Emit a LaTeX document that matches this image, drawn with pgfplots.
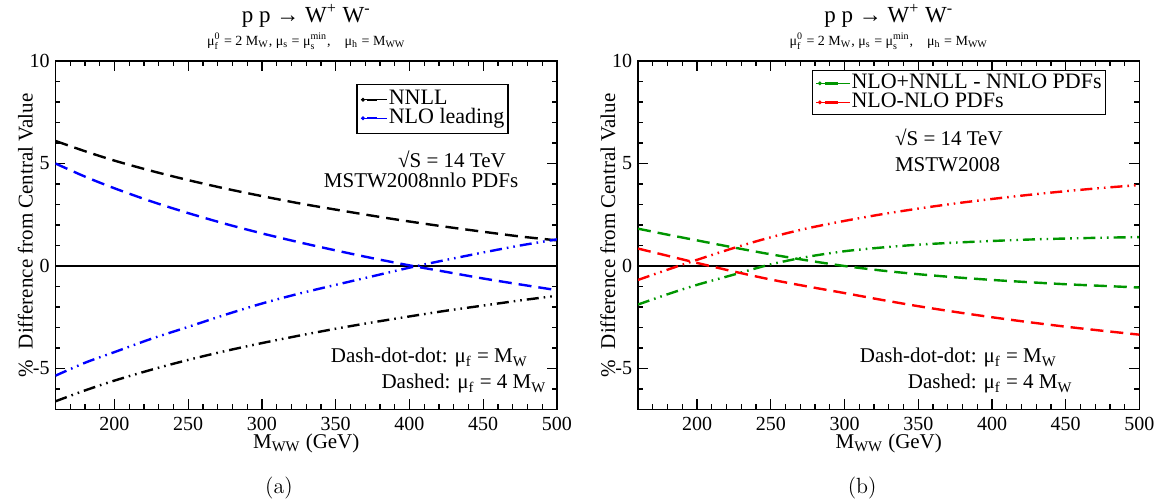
\documentclass[border=0pt]{standalone}
\usepackage{fontspec}
\setmainfont{Liberation Serif}
\usepackage{pgfplots}
\pgfplotsset{compat=1.18}

\definecolor{gcurve}{RGB}{0,150,0}
\definecolor{rcurve}{RGB}{255,0,0}
\definecolor{bcurve}{RGB}{0,0,255}

% stacked subscript/superscript in text
\newcommand{\subsup}[2]{$_{\mathrm{#1}}^{\mathrm{#2}}$}

\tikzset{
  ddd/.style={dash pattern=on 6pt off 2.5pt on 0.8pt off 2.5pt on 0.8pt off 2.5pt},
  dsh/.style={dash pattern=on 6.5pt off 3.5pt},
}

\pgfplotsset{
  panel/.style={
    scale only axis, width=250.75pt, height=174.25pt,
    xmin=160, xmax=500, ymin=-7, ymax=10,
    xtick={200,250,...,500}, ytick={-5,0,5,10},
    minor xtick={170,180,190,210,220,230,240,260,270,280,290,310,320,330,340,360,370,380,390,410,420,430,440,460,470,480,490},
    minor ytick={-6,-4,-3,-2,-1,1,2,3,4,6,7,8,9},
    xtick pos=both, ytick pos=both, tick align=inside,
    major tick length=5pt, minor tick length=2.5pt,
    every tick/.style={black, line width=0.6pt},
    axis line style={line width=0.85pt},
    tick label style={font=\fontsize{10}{12}\selectfont, inner sep=0pt},
    xticklabel style={anchor=base, yshift=-10.75pt},
    yticklabel style={anchor=east, xshift=-2.75pt},
    /pgf/number format/assume math mode=true,
    every axis x label/.style={at={(axis description cs:0.5,-0.1105)}, anchor=base},
    every axis y label/.style={at={(axis description cs:-0.06,0.5)}, rotate=90, anchor=center},
    label style={font=\fontsize{10.5}{12}\selectfont},
    xlabel={M\textsubscript{WW} (GeV)},
    ylabel={\%\ \ Difference from Central Value},
    clip mode=individual,
    legend cell align=left,
    legend style={draw=black, line width=0.6pt, fill=white,
      inner xsep=1.5pt, font=\fontsize{11}{11}\selectfont},
  },
  curve/.style={line width=1.2pt, smooth, forget plot},
  legsampleA/.style={legend image code/.code={
      \path (0pt,0pt) -- (13.4pt,0pt);
      \fill (1.2pt,0pt) circle[radius=0.65pt];
      \draw[solid, line width=1.2pt] (3.3pt,0pt) -- (8.2pt,0pt);}},
  legsampleB/.style={legend image code/.code={
      \path (0pt,0pt) -- (16.9pt,0pt);
      \fill (1.8pt,0pt) circle[radius=0.65pt];
      \draw[solid, line width=1.2pt] (4.5pt,0pt) -- (11pt,0pt);}},
}

\newcommand{\toptitle}{%
  \node[font=\fontsize{11.5}{13}\selectfont] at (rel axis cs:0.5,1.13) {p p → W\textsuperscript{+} W\textsuperscript{-}};
  \node[font=\fontsize{7}{8}\selectfont] at (rel axis cs:0.5,1.057)
    {μ\subsup{f}{0} = 2 M\textsubscript{W}, μ\textsubscript{s} = μ\subsup{s}{min},\quad μ\textsubscript{h} = M\textsubscript{WW}};
}

\begin{document}
\begin{tikzpicture}
\path[use as bounding box] (0pt,0pt) rectangle (579pt,251.5pt);

% ---------------- panel (a) ----------------
\begin{axis}[panel, at={(27.75pt,46.75pt)}, anchor=south west,
  legend style={at={(axis description cs:0.6,0.934)}, anchor=north west, inner ysep=3pt,
    nodes={inner sep=0.4pt, text height=6.8pt, text depth=1.6pt}}]
\addplot[black, line width=0.75pt, forget plot] coordinates {(160,0) (500,0)};
% NNLL, mu_f = 4 M_W
\addplot[curve, black, dsh] coordinates {
 (160,6.10) (180,5.60) (200,5.14) (225,4.64) (250,4.19) (275,3.78) (300,3.41) (325,3.06)
 (350,2.75) (375,2.45) (400,2.17) (425,1.91) (450,1.67) (475,1.44) (500,1.25)};
% NLO leading, mu_f = 4 M_W
\addplot[curve, bcurve, dsh] coordinates {
 (160,5.00) (180,4.36) (200,3.79) (225,3.15) (250,2.58) (275,2.06) (300,1.59) (325,1.16)
 (350,0.76) (375,0.38) (400,0.03) (425,-0.29) (450,-0.61) (475,-0.90) (500,-1.18)};
% NNLL, mu_f = M_W
\addplot[curve, black, ddd] coordinates {
 (160,-6.60) (180,-6.07) (200,-5.59) (225,-5.06) (250,-4.58) (275,-4.15) (300,-3.76) (325,-3.40)
 (350,-3.06) (375,-2.75) (400,-2.46) (425,-2.18) (450,-1.93) (475,-1.68) (500,-1.45)};
% NLO leading, mu_f = M_W
\addplot[curve, bcurve, ddd] coordinates {
 (160,-5.35) (180,-4.72) (200,-4.20) (225,-3.55) (250,-2.97) (275,-2.38) (300,-1.83) (325,-1.35)
 (350,-0.92) (375,-0.50) (400,-0.08) (425,0.30) (450,0.66) (475,1.00) (500,1.30)};
\addlegendimage{black, legsampleA}
\addlegendentry{NNLL}
\addlegendimage{bcurve, legsampleA}
\addlegendentry{NLO leading}
\toptitle
\begin{scope}[every node/.style={font=\fontsize{10.5}{12}\selectfont, inner sep=0pt}]
\node[anchor=base west] at (axis cs:392,4.82) {√S = 14 TeV};
\node[anchor=base east] at (axis cs:474,3.82) {MSTW2008nnlo PDFs};
\node[anchor=base west] at (axis cs:346.5,-4.72) {Dash-dot-dot: μ\textsubscript{f} = M\textsubscript{W}};
\node[anchor=base west] at (axis cs:380.8,-5.99) {Dashed: μ\textsubscript{f} = 4 M\textsubscript{W}};
\end{scope}
\node[font=\fontsize{11}{12}\selectfont\fontfamily{lmr}\selectfont] at (rel axis cs:0.4457,-0.2253) {(a)};
\end{axis}

% ---------------- panel (b) ----------------
\begin{axis}[panel, at={(319pt,46.75pt)}, anchor=south west,
  legend style={at={(axis description cs:0.347,0.9735)}, anchor=north west, inner ysep=1.5pt,
    nodes={inner sep=0.45pt, text height=6.8pt, text depth=1.8pt}}]
\addplot[black, line width=0.75pt, forget plot] coordinates {(160,0) (500,0)};
% NLO+NNLL - NNLO PDFs, mu_f = 4 M_W
\addplot[curve, gcurve, dsh] coordinates {
 (160,1.82) (180,1.53) (200,1.25) (225,0.90) (250,0.57) (275,0.27) (300,0.00) (325,-0.22)
 (350,-0.40) (375,-0.55) (400,-0.68) (425,-0.79) (450,-0.89) (475,-0.97) (500,-1.05)};
% NLO+NNLL - NNLO PDFs, mu_f = M_W
\addplot[curve, gcurve, ddd] coordinates {
 (160,-1.88) (180,-1.38) (200,-0.92) (225,-0.42) (250,0.08) (275,0.45) (300,0.72) (325,0.90)
 (350,1.04) (375,1.14) (400,1.22) (425,1.29) (450,1.34) (475,1.38) (500,1.41)};
% NLO - NLO PDFs, mu_f = 4 M_W
\addplot[curve, rcurve, dsh] coordinates {
 (160,0.85) (180,0.50) (200,0.15) (225,-0.27) (250,-0.66) (275,-1.00) (300,-1.32) (325,-1.65)
 (350,-1.96) (375,-2.24) (400,-2.50) (425,-2.74) (450,-2.96) (475,-3.16) (500,-3.35)};
% NLO - NLO PDFs, mu_f = M_W
\addplot[curve, rcurve, ddd] coordinates {
 (160,-0.68) (180,-0.18) (200,0.30) (225,0.88) (250,1.40) (275,1.84) (300,2.20) (325,2.52)
 (350,2.80) (375,3.05) (400,3.27) (425,3.47) (450,3.65) (475,3.81) (500,3.95)};
\addlegendimage{gcurve, legsampleB}
\addlegendentry{NLO+NNLL - NNLO PDFs}
\addlegendimage{rcurve, legsampleB}
\addlegendentry{NLO-NLO PDFs}
\toptitle
\begin{scope}[every node/.style={font=\fontsize{10.5}{12}\selectfont, inner sep=0pt}]
\node[anchor=base west] at (axis cs:334,5.89) {√S = 14 TeV};
\node[anchor=base west] at (axis cs:334,4.63) {MSTW2008};
\node[anchor=base west] at (axis cs:310.2,-4.72) {Dash-dot-dot: μ\textsubscript{f} = M\textsubscript{W}};
\node[anchor=base west] at (axis cs:342.7,-5.99) {Dashed: μ\textsubscript{f} = 4 M\textsubscript{W}};
\end{scope}
\node[font=\fontsize{11}{12}\selectfont\fontfamily{lmr}\selectfont] at (rel axis cs:0.447,-0.2253) {(b)};
\end{axis}
\end{tikzpicture}
\end{document}
